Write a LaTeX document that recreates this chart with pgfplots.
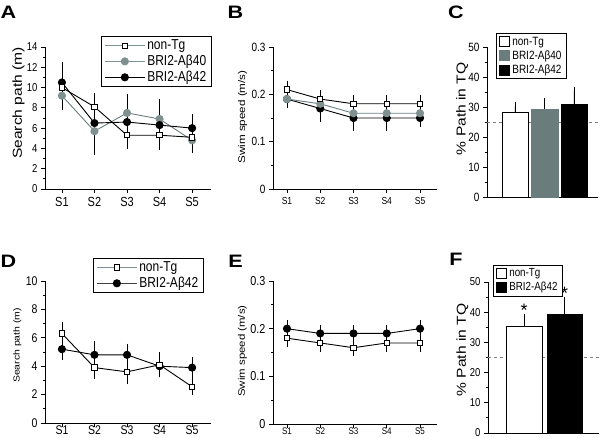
\documentclass[border=0pt]{standalone}
\usepackage{pgfplots}
\pgfplotsset{compat=1.18}
\usepackage{fontspec}
\setmainfont{Liberation Sans}
\definecolor{tealgray}{HTML}{6B7C7C}
\definecolor{circgray}{HTML}{7E9090}
\definecolor{legteal}{HTML}{7F9595}
\newcommand{\vs}[1]{\scalebox{1}[1.2]{#1}}
\newcommand{\hs}[1]{\scalebox{1.2}[1]{#1}}
\newcommand{\fs}[1]{\fontsize{#1}{#1}\selectfont}
\pgfplotsset{
  panel/.style={
    scale only axis, anchor=south west,
    axis x line*=bottom, axis y line*=left,
    axis line style={-, line width=0.8pt},
    tick align=outside, tick style={line width=0.8pt, black},
    major tick length=4pt, minor tick length=2.5pt,
    /pgf/number format/assume math mode=true,
    tick label style={yscale=1.2},
    clip=false,
    legend cell align=left,
    legend style={draw=black, line width=0.9pt, inner xsep=3pt, inner ysep=1.5pt, row sep=0pt},
  },
  ebb/.style={error bars/y dir=both, error bars/y explicit, error bars/error mark=-,
    error bars/error bar style={line width=0.8pt, black},
    error bars/error mark options={mark size=4pt, line width=0.8pt, black}},
  ebp/.style={error bars/y dir=plus, error bars/y explicit, error bars/error mark=-,
    error bars/error bar style={line width=0.8pt, black},
    error bars/error mark options={mark size=4pt, line width=0.8pt, black}},
  nontg/.style={black, line width=0.9pt, mark=square*, mark size=2.7pt, mark options={fill=white, draw=black}},
  ab40/.style={tealgray, line width=0.9pt, mark=*, mark size=3.6pt, mark options={fill=circgray, draw=circgray}},
  ab42/.style={black, line width=0.9pt, mark=*, mark size=3.6pt, mark options={fill=black, draw=black}},
  linelegend/.style={legend image code/.code={\draw[mark repeat=2,mark phase=2,##1] plot coordinates {(0pt,0pt) (20pt,0pt) (40pt,0pt)};}},
  boxlegend/.style={legend image code/.code={\draw[##1] (0pt,-5pt) rectangle (10pt,5pt);}},
}
\begin{document}
\begin{tikzpicture}
\path[use as bounding box] (0,0) rectangle (600pt,438pt);

% ---------------- A ----------------
\begin{axis}[panel, at={(45pt,249pt)}, width=166pt, height=142pt,
  xmin=0.48, xmax=5.58, ymin=0, ymax=14,
  ytick={0,2,...,14}, minor y tick num=1,
  xtick={1,2,3,4,5}, xticklabels={S1,S2,S3,S4,S5},
  xticklabel style={font=\fs{11}}, yticklabel style={font=\fs{9.5}},
  ylabel={\hs{Search path (m)}},
  ylabel style={font=\fs{13}, at={(axis description cs:-0.16,0.606)}, anchor=center},
  linelegend,
  legend style={at={(axis description cs:0.337,1.077)}, anchor=north west, font=\fs{12}},
]
\addlegendimage{legteal, line width=0.9pt, mark=square*, mark size=2.7pt, mark options={fill=white, draw=black}}
\addlegendentry{\vs{non-Tg}}
\addlegendimage{legteal, line width=0.9pt, mark=*, mark size=3.6pt, mark options={fill=circgray, draw=circgray}}
\addlegendentry{\vs{BRI2-Aβ40}}
\addlegendimage{black, line width=0.9pt, mark=*, mark size=3.6pt}
\addlegendentry{\vs{BRI2-Aβ42}}
\addplot[ab40, ebb, forget plot] coordinates {
  (1,9.2) +- (0,1.0) (2,5.7) +- (0,2.0) (3,7.5) +- (0,1.5) (4,6.9) +- (0,1.6) (5,4.8) +- (0,0.9)};
\addplot[ab42, ebb, forget plot] coordinates {
  (1,10.5) +- (0,1.6) (2,6.5) +- (0,1.9) (3,6.6) +- (0,1.0) (4,6.3) +- (0,1.0) (5,6.0) +- (0,1.0)};
\addplot[nontg, ebb, forget plot] coordinates {
  (1,10.0) +- (0,0.6) (2,8.1) +- (0,1.0) (3,5.3) +- (0,1.0) (4,5.3) +- (0,1.1) (5,5.1) +- (0,0.5)};
\end{axis}

% ---------------- B ----------------
\begin{axis}[panel, at={(273pt,249pt)}, width=164pt, height=142pt,
  xmin=0.58, xmax=5.51, ymin=0, ymax=0.3,
  ytick={0,0.1,0.2,0.3}, minor y tick num=1,
  yticklabel style={/pgf/number format/fixed, font=\fs{10}},
  xtick={1,2,3,4,5}, xticklabels={S1,S2,S3,S4,S5},
  xticklabel style={font=\fs{8.5}},
  ylabel={\hs{Swim speed (m/s)}},
  ylabel style={font=\fs{9.7}, at={(axis description cs:-0.186,0.507)}, anchor=center},
]
\addplot[ab42, ebb] coordinates {
  (1,0.19) +- (0,0.01) (2,0.17) +- (0,0.02) (3,0.15) +- (0,0.02) (4,0.15) +- (0,0.02) (5,0.15) +- (0,0.01)};
\addplot[ab40, ebb] coordinates {
  (1,0.19) +- (0,0.01) (2,0.18) +- (0,0.01) (3,0.16) +- (0,0.01) (4,0.16) +- (0,0.01) (5,0.16) +- (0,0.01)};
\addplot[nontg, ebb] coordinates {
  (1,0.21) +- (0,0.01) (2,0.19) +- (0,0.01) (3,0.18) +- (0,0.01) (4,0.18) +- (0,0.01) (5,0.18) +- (0,0.01)};
\end{axis}

% ---------------- C ----------------
\begin{axis}[panel, at={(487pt,241pt)}, width=111pt, height=150pt,
  xmin=0.051, xmax=3.814, ymin=0, ymax=50,
  ytick={0,10,...,50}, minor y tick num=1, xtick=\empty,
  yticklabel style={font=\fs{10}},
  ylabel={\hs{\% Path in TQ}},
  ylabel style={font=\fs{13}, at={(axis description cs:-0.225,0.588)}, anchor=center},
  boxlegend,
  legend style={at={(axis description cs:0.081,1.093)}, anchor=north west, font=\fs{10}},
]
\addlegendimage{draw=black, fill=white, line width=0.9pt}
\addlegendentry{\vs{non-Tg}}
\addlegendimage{draw=tealgray, fill=tealgray}
\addlegendentry{\vs{BRI2-Aβ40}}
\addlegendimage{draw=black, fill=black}
\addlegendentry{\vs{BRI2-Aβ42}}
\addplot[forget plot, gray, line width=0.8pt, dash pattern=on 3pt off 3pt] coordinates {(0.051,25) (3.88,25)};
\addplot[forget plot, ybar, bar width=26pt, bar shift=0pt, fill=white, draw=black, line width=0.9pt, ebp] coordinates {(1,28.3) +- (0,2.0)};
\addplot[forget plot, ybar, bar width=27pt, bar shift=0pt, fill=tealgray, draw=tealgray, line width=0.5pt, ebp] coordinates {(2,29.4) +- (0,2.2)};
\addplot[forget plot, ybar, bar width=26pt, bar shift=0pt, fill=black, draw=black, line width=0.9pt, ebp] coordinates {(3,30.8) +- (0,4.6)};
\end{axis}

% ---------------- D ----------------
\begin{axis}[panel, at={(45pt,15pt)}, width=166pt, height=142pt,
  xmin=0.48, xmax=5.58, ymin=0, ymax=10,
  ytick={0,2,...,10}, minor y tick num=1,
  xtick={1,2,3,4,5}, xticklabels={S1,S2,S3,S4,S5},
  xticklabel style={font=\fs{10.5}, yshift=5pt}, yticklabel style={font=\fs{10.5}},
  ylabel={\hs{Search path (m)}},
  ylabel style={font=\fs{8.7}, at={(axis description cs:-0.166,0.546)}, anchor=center},
  linelegend,
  legend style={at={(axis description cs:0.289,1.162)}, anchor=north west, font=\fs{12}},
]
\addlegendimage{legteal, line width=0.9pt, mark=square*, mark size=2.7pt, mark options={fill=white, draw=black}}
\addlegendentry{\vs{non-Tg}}
\addlegendimage{black!75, line width=0.9pt, mark=*, mark size=3.6pt, mark options={fill=black, draw=black}}
\addlegendentry{\vs{BRI2-Aβ42}}
\addplot[ab42, ebb, forget plot] coordinates {
  (1,5.2) +- (0,0.5) (2,4.8) +- (0,0.7) (3,4.8) +- (0,0.5) (4,4.0) +- (0,0.5) (5,3.9) +- (0,0.5)};
\addplot[nontg, ebb, forget plot] coordinates {
  (1,6.3) +- (0,0.5) (2,3.9) +- (0,0.5) (3,3.6) +- (0,0.6) (4,4.1) +- (0,0.6) (5,2.55) +- (0,0.3)};
\end{axis}

% ---------------- E ----------------
\begin{axis}[panel, at={(273pt,14pt)}, width=164pt, height=143pt,
  xmin=0.58, xmax=5.51, ymin=0, ymax=0.3,
  ytick={0,0.1,0.2,0.3}, minor y tick num=1,
  yticklabel style={/pgf/number format/fixed, font=\fs{10.8}},
  xtick={1,2,3,4,5}, xticklabels={S1,S2,S3,S4,S5},
  xticklabel style={font=\fs{8}, yshift=3.5pt},
  ylabel={\hs{Swim speed (m/s)}},
  ylabel style={font=\fs{9.5}, at={(axis description cs:-0.186,0.51)}, anchor=center},
]
\addplot[ab42, ebb] coordinates {
  (1,0.20) +- (0,0.01) (2,0.19) +- (0,0.01) (3,0.19) +- (0,0.01) (4,0.19) +- (0,0.01) (5,0.20) +- (0,0.01)};
\addplot[nontg, ebb] coordinates {
  (1,0.18) +- (0,0.01) (2,0.17) +- (0,0.01) (3,0.16) +- (0,0.01) (4,0.17) +- (0,0.01) (5,0.17) +- (0,0.01)};
\end{axis}

% ---------------- F ----------------
\begin{axis}[panel, at={(488pt,5pt)}, width=111pt, height=151pt,
  xmin=0.111, xmax=2.852, ymin=0, ymax=50,
  ytick={0,10,...,50}, minor y tick num=1, xtick=\empty,
  yticklabel style={font=\fs{9.5}},
  ylabel={\hs{\% Path in TQ}},
  ylabel style={font=\fs{13}, at={(axis description cs:-0.23,0.55)}, anchor=center},
  boxlegend,
  legend style={at={(axis description cs:0.045,1.113)}, anchor=north west, font=\fs{9.8}},
]
\addlegendimage{draw=black, fill=white, line width=0.9pt}
\addlegendentry{\vs{non-Tg}}
\addlegendimage{draw=black, fill=black}
\addlegendentry{\vs{BRI2-Aβ42}}
\addplot[forget plot, gray, line width=0.8pt, dash pattern=on 3pt off 3pt] coordinates {(0.111,25) (2.88,25)};
\addplot[forget plot, ybar, bar width=36pt, bar shift=0pt, fill=white, draw=black, line width=0.9pt, ebp] coordinates {(1,35.2) +- (0,2.8)};
\addplot[forget plot, ybar, bar width=35pt, bar shift=0pt, fill=black, draw=black, line width=0.9pt, ebp] coordinates {(2,39.2) +- (0,4.6)};
\node[anchor=base, font=\fs{18}] at (axis cs:1,38.5) {*};
\node[anchor=base, font=\fs{18}] at (axis cs:2,44.2) {*};
\end{axis}

% panel letters
\node[font=\fs{18}\bfseries] at (8.5pt,425.5pt) {\hs{A}};
\node[font=\fs{18}\bfseries] at (235.5pt,425.5pt) {\hs{B}};
\node[font=\fs{18}\bfseries] at (456pt,425.5pt) {\hs{C}};
\node[font=\fs{18}\bfseries] at (8.5pt,176.5pt) {\hs{D}};
\node[font=\fs{18}\bfseries] at (235.5pt,176.5pt) {\hs{E}};
\node[font=\fs{18}\bfseries] at (456pt,179pt) {\hs{F}};
\end{tikzpicture}
\end{document}
